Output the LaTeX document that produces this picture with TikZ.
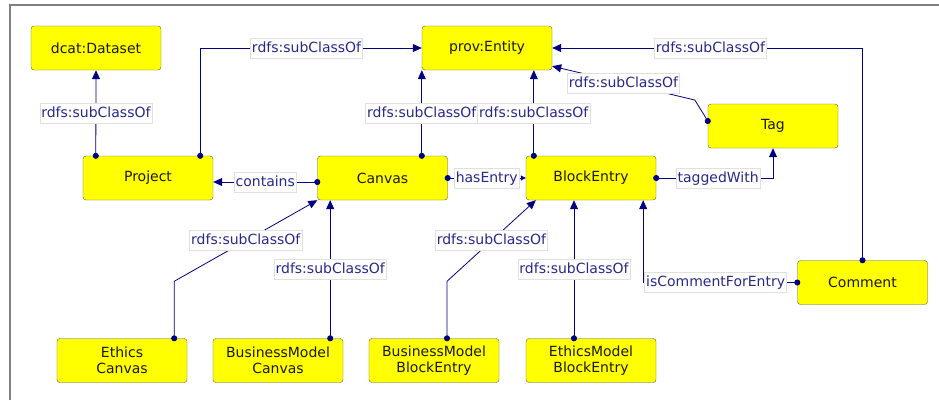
\documentclass[tikz,border=0pt]{standalone}
\usepackage{fontspec}
\setmainfont{DejaVu Sans}
\usetikzlibrary{arrows.meta}

\definecolor{linkblue}{RGB}{0,0,128}
\definecolor{labelblue}{RGB}{40,40,140}
\definecolor{boxyellow}{RGB}{255,255,0}

\tikzset{
  cls/.style={draw=black!65,fill=boxyellow,rounded corners=3pt,
    minimum width=130pt,minimum height=44pt,inner sep=0pt,align=center,
    font=\fontsize{14}{16}\selectfont,text=black!90},
  rel/.style={draw=linkblue,line width=0.8pt,shorten <=-3pt,
    {Circle[length=6pt]}-{Triangle[length=9pt,width=8pt]}},
  lbl/.style={fill=white,draw=black!12,line width=0.6pt,text=labelblue,
    inner xsep=1.5pt,inner ysep=3pt,text height=11pt,text depth=3pt,
    font=\fontsize{14}{16}\selectfont}
}

\begin{document}
\begin{tikzpicture}[x=1pt,y=-1pt]

\useasboundingbox (0,0) rectangle (939,400);
\draw[black!50,line width=2pt] (10,400) -- (10,5) -- (939,5);

\node[cls] (dataset) at (96,48)    {dcat:Dataset};
\node[cls] (entity)  at (487,48)   {prov:Entity};
\node[cls] (tag)     at (773,126)  {Tag};

\node[cls] (project)    at (148,178)   {Project};
\node[cls] (canvas)     at (382.5,178) {Canvas};
\node[cls] (blockentry) at (591,178)   {BlockEntry};
\node[cls] (comment)    at (862.5,282.5) {Comment};

\node[cls] (ethicscanvas) at (122,360.5) {Ethics\\Canvas};
\node[cls] (bmcanvas)     at (278,360.5) {BusinessModel\\Canvas};
\node[cls] (bmblock)      at (434,360.5) {BusinessModel\\BlockEntry};
\node[cls] (emblock)      at (591,360.5) {EthicsModel\\BlockEntry};

% subclass links to the upper classes
\draw[rel] ([xshift=13pt]project.north west) -- node[lbl] {rdfs:subClassOf} (dataset.south);
\draw[rel] ([xshift=-13pt]project.north east) |- node[lbl,pos=0.74] {rdfs:subClassOf} (entity.west);
\draw[rel] (entity.south west |- canvas.north) -- node[lbl] {rdfs:subClassOf} (entity.south west);
\draw[rel] ([xshift=8pt]blockentry.north west) -- node[lbl] {rdfs:subClassOf}
  ([xshift=8pt]blockentry.north west |- entity.south);
\draw[rel] (comment.north) |- node[lbl,pos=0.745] {rdfs:subClassOf} (entity.east);
\draw[rel] ([yshift=5pt]tag.west) -- ++(-13,-21) -- node[lbl] {rdfs:subClassOf}
  ([yshift=4pt]entity.south east);

% properties
\draw[rel] ([yshift=-4pt]canvas.west) -- node[lbl] {contains} ([yshift=-4pt]project.east);
\draw[rel,{Circle[length=6pt]}-{Triangle[length=5pt,width=5pt]}] (canvas.east) -- node[lbl] {hasEntry} (blockentry.west);
\draw[rel] (blockentry.east) -| node[lbl,pos=0.265] {taggedWith} (tag.south);
\draw[rel] (comment.west) -| node[lbl,pos=0.265] {isCommentForEntry} ([xshift=-13pt]blockentry.south east);

% subclasses below
\draw[rel] ([xshift=-13pt]ethicscanvas.north east) -- ++(0,-57) -- node[lbl] {rdfs:subClassOf} (canvas.south west);
\draw[rel] ([xshift=-13pt]bmcanvas.north east) -- node[lbl] {rdfs:subClassOf}
  ([xshift=-13pt]bmcanvas.north east |- canvas.south);
\draw[rel] ([xshift=13pt]bmblock.north) -- ++(0,-57) -- node[lbl] {rdfs:subClassOf} ([xshift=10pt]blockentry.south west);
\draw[rel] ([xshift=-17pt]emblock.north) -- node[lbl] {rdfs:subClassOf} ([xshift=-17pt]blockentry.south);

\end{tikzpicture}
\end{document}
